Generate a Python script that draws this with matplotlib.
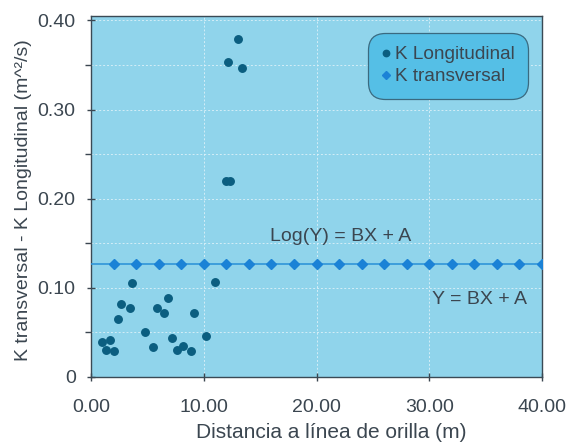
import matplotlib
matplotlib.use("Agg")
import matplotlib.pyplot as plt
from matplotlib.ticker import MultipleLocator, FixedLocator

plt.rcParams['font.family'] = ['Liberation Sans', 'DejaVu Sans']

# K Longitudinal (scatter)
long_x = [0.94, 1.68, 1.33, 2.06, 2.4, 2.7, 3.5, 3.6, 4.78, 5.46, 5.84, 6.46,
          6.85, 7.2, 7.67, 8.2, 8.9, 9.1, 10.2, 10.97, 12.0, 12.3, 12.15, 13.07, 13.4]
long_y = [0.0395, 0.0417, 0.0305, 0.029, 0.0656, 0.0816, 0.077, 0.1058, 0.0507, 0.0339,
          0.077, 0.0719, 0.089, 0.0436, 0.0305, 0.035, 0.0287, 0.0719, 0.0458, 0.1065,
          0.2198, 0.2198, 0.3538, 0.3788, 0.347]

# K transversal (constant line with diamonds)
trans_x = [0, 2, 4, 6, 8, 10, 12, 14, 16, 18, 20, 22, 24, 26, 28, 30, 32, 34, 36, 38, 40]
trans_y = [0.127] * len(trans_x)

x_ticks = [0, 10, 20, 30, 40]
x_ticklabels = ["0.00", "10.00", "20.00", "30.00", "40.00"]
y_ticks = [0, 0.10, 0.20, 0.30, 0.40]
y_ticklabels = ["0", "0.10", "0.20", "0.30", "0.40"]

text_col = "#3b4650"
bg_col = "#90d4eb"
legend_col = "#55bfe6"
dot_col = "#0b5e80"
dia_col = "#1b82d6"
line_col = "#2f95d8"

fig = plt.figure(figsize=(5.76, 4.43), dpi=100)
ax = fig.add_axes([0.158, 0.149, 0.783, 0.815])
ax.set_facecolor(bg_col)

ax.plot(trans_x, trans_y, color=line_col, lw=1.2, marker='D', markersize=5.2,
        markerfacecolor=dia_col, markeredgecolor=dia_col,
        markevery=list(range(1, len(trans_x))), label="K transversal", zorder=3)
ax.plot(long_x, long_y, linestyle='none', marker='o', markersize=5.4,
        color=dot_col, label="K Longitudinal", zorder=4)

ax.set_xlim(0, 40)
ax.set_ylim(0, 0.405)

ax.xaxis.set_major_locator(FixedLocator(x_ticks))
ax.set_xticklabels(x_ticklabels)
ax.yaxis.set_major_locator(FixedLocator(y_ticks))
ax.set_yticklabels(y_ticklabels)
ax.yaxis.set_minor_locator(MultipleLocator(0.05))

ax.tick_params(axis='both', which='major', direction='inout', length=6, width=1,
               color=text_col, labelcolor=text_col, labelsize=14)
ax.tick_params(axis='x', which='major', pad=13)
ax.tick_params(axis='y', which='major', pad=8)
ax.tick_params(axis='y', which='minor', direction='out', length=4, width=1, color=text_col)

ax.grid(True, which='both', axis='y', color='#e4f4fa', lw=0.7, ls=(0, (2, 2)), alpha=0.8)
ax.grid(True, which='major', axis='x', color='#e4f4fa', lw=0.7, ls=(0, (2, 2)), alpha=0.8)
ax.set_axisbelow(True)

for s in ax.spines.values():
    s.set_color("#3a4a55")
    s.set_linewidth(1.0)

ax.set_xlabel("Distancia a línea de orilla (m)", fontsize=15, color=text_col, labelpad=5)
ax.xaxis.label.set_x(0.532)
ax.set_ylabel("K transversal - K Longitudinal (m^²/s)", fontsize=14, color=text_col, labelpad=4)
ax.yaxis.label.set_y(0.49)

ax.text(15.9, 0.158, "Log(Y) = BX + A", fontsize=14, color=text_col, va='center', ha='left')
ax.text(30.2, 0.0864, "Y = BX + A", fontsize=14, color=text_col, va='center', ha='left')

handles, labels = ax.get_legend_handles_labels()
leg = ax.legend(handles[::-1], labels[::-1], loc='upper right',
                bbox_to_anchor=(0.955, 0.935), fontsize=13.7, frameon=True, fancybox=True,
                facecolor=legend_col, edgecolor="#3a6a80", framealpha=1,
                handlelength=0.5, handletextpad=0.25, borderpad=0.35, labelspacing=0.25,
                markerscale=0.85, borderaxespad=0)
for t in leg.get_texts():
    t.set_color(text_col)
leg.get_frame().set_linewidth(0.9)
leg.get_frame().set_boxstyle("round,pad=0.35,rounding_size=0.9")
for h in leg.legend_handles:
    h.set_linestyle('none')

fig.savefig("out.png", dpi=100)
